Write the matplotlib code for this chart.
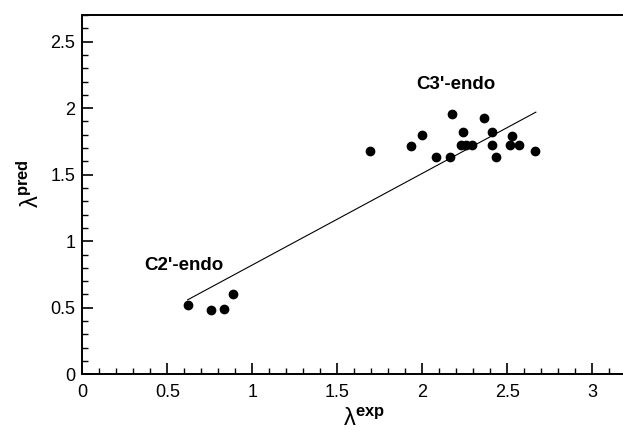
import numpy as np
import matplotlib.pyplot as plt
from matplotlib.ticker import MultipleLocator

plt.rcParams['font.family'] = ['Liberation Sans', 'DejaVu Sans']
plt.rcParams['mathtext.fontset'] = 'custom'
plt.rcParams['mathtext.rm'] = 'Liberation Sans'
plt.rcParams['mathtext.bf'] = 'Liberation Sans:bold'

# lambda values
lam_exp = [0.62, 0.76, 0.835, 0.885,
           1.695, 1.935, 2.0, 2.08, 2.165, 2.175, 2.225, 2.24, 2.255, 2.29,
           2.365, 2.41, 2.41, 2.435, 2.515, 2.53, 2.57, 2.665]
lam_pred = [0.52, 0.485, 0.49, 0.60,
            1.68, 1.715, 1.80, 1.635, 1.635, 1.955, 1.725, 1.82, 1.725, 1.725,
            1.925, 1.82, 1.725, 1.635, 1.725, 1.79, 1.725, 1.68]

fit_x = [0.62, 2.668]
fit_y = [0.56, 1.97]

fig = plt.figure(figsize=(6.23, 4.30), dpi=100)
ax = fig.add_axes([0.1321, 0.1295, 0.8732, 0.8356])

ax.plot(fit_x, fit_y, color='black', lw=0.8)
ax.scatter(lam_exp, lam_pred, s=36, color='black', zorder=3)

ax.text(2.2, 2.18, "C3'-endo", fontsize=13.5, fontweight='bold', ha='center', va='center')
ax.text(0.6, 0.82, "C2'-endo", fontsize=13.5, fontweight='bold', ha='center', va='center')

ax.set_xlim(0, 3.2)
ax.set_ylim(0, 2.7)
ax.xaxis.set_major_locator(MultipleLocator(0.5))
ax.xaxis.set_minor_locator(MultipleLocator(0.1))
ax.yaxis.set_major_locator(MultipleLocator(0.5))
ax.yaxis.set_minor_locator(MultipleLocator(0.1))
ax.xaxis.set_major_formatter(plt.FuncFormatter(lambda v, p: f"{v:g}"))
ax.yaxis.set_major_formatter(plt.FuncFormatter(lambda v, p: f"{v:g}"))

ax.tick_params(which='both', direction='in', top=False, right=False, labelsize=13)
ax.tick_params(which='major', length=8, width=1.2)
ax.tick_params(which='minor', length=4.5, width=1.0)
ax.tick_params(axis='y', pad=5)
ax.tick_params(axis='x', pad=7)
for s in ax.spines.values():
    s.set_linewidth(1.4)

ax.set_xlabel(r'$\mathrm{λ}^{\mathbf{exp}}$', fontsize=17)
ax.xaxis.set_label_coords(0.518, -0.095)
ax.set_ylabel(r'$\mathrm{λ}^{\mathbf{pred}}$', fontsize=17)
ax.yaxis.set_label_coords(-0.07, 0.53)

fig.savefig('out.png', dpi=100)
